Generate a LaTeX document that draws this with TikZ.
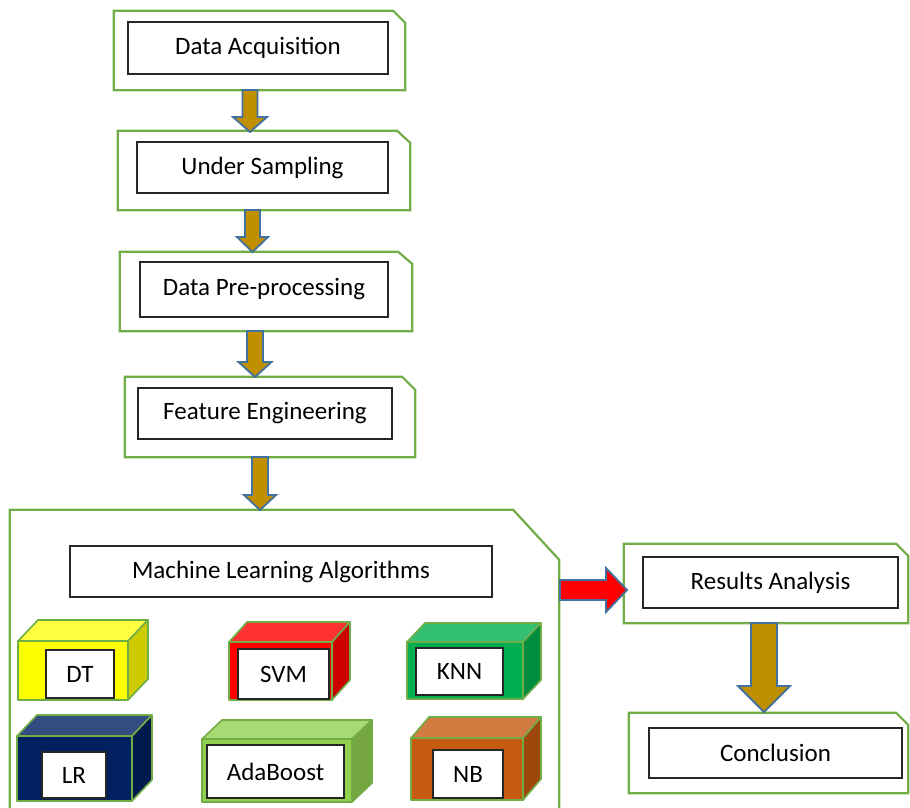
\documentclass[tikz,border=0pt]{standalone}
\usepackage{fontspec}
\setmainfont{Carlito}
\usetikzlibrary{calc,fit}
\definecolor{gline}{HTML}{70AD47}
\definecolor{gold}{HTML}{BF8F00}
\definecolor{arrline}{HTML}{41719C}
\definecolor{lblline}{HTML}{262626}
\definecolor{dtF}{HTML}{FFFF00}\definecolor{dtT}{HTML}{FFFF40}\definecolor{dtS}{HTML}{CCCC00}
\definecolor{svF}{HTML}{FF0000}\definecolor{svT}{HTML}{FF3333}\definecolor{svS}{HTML}{CC0000}
\definecolor{knF}{HTML}{00B050}\definecolor{knT}{HTML}{33C073}\definecolor{knS}{HTML}{008D40}
\definecolor{lrF}{HTML}{002060}\definecolor{lrT}{HTML}{334D80}\definecolor{lrS}{HTML}{001A4D}
\definecolor{abF}{HTML}{92D050}\definecolor{abT}{HTML}{A8DA73}\definecolor{abS}{HTML}{75A640}
\definecolor{nbF}{HTML}{C55A11}\definecolor{nbT}{HTML}{D17B41}\definecolor{nbS}{HTML}{9E480E}
\tikzset{
  outerline/.style={draw=gline, line width=2.2pt, line join=miter},
  lbl/.style={draw=lblline, fill=white, line width=1.4pt, inner sep=0pt, text=black,
    font=\fontsize{25}{28}\selectfont},
  blockarr/.style={fill=gold, draw=arrline, line width=1.8pt, line join=miter},
  redarr/.style={fill=red, draw=arrline, line width=1.8pt, line join=miter},
  cubeline/.style={draw=gline, line width=1.6pt, line join=round},
}
% outer chamfered box: name, x1,y1,x2,y2, chamfer x, chamfer y
\newcommand\outerbox[7]{%
  \coordinate (#1-nw) at (#2,#3);
  \coordinate (#1-se) at (#4,#5);
  \node[fit=(#1-nw)(#1-se), inner sep=0pt] (#1) {};
  \draw[outerline] (#1.south west) -- (#1.north west) -- ([xshift=-#6pt]#1.north east)
     -- ([yshift=-#7pt]#1.north east) -- (#1.south east) -- cycle;}
% label box: name, x1,y1,x2,y2, text
\newcommand\lblbox[6]{%
  \node[lbl, minimum width={#4-#2}, minimum height={#5-#3}] (#1) at ({(#2+#4)/2},{(#3+#5)/2}) {#6};}
% down block arrow between named coordinates: start, end, half shaft, half head, head length
\newcommand\downblk[5]{%
  \path[blockarr] let \p1=(#1), \p2=(#2) in
    (\x1-#3pt,\y1) -- (\x1+#3pt,\y1) -- (\x1+#3pt,\y2+#5pt) -- (\x1+#4pt,\y2+#5pt)
    -- (\x1,\y2) -- (\x1-#4pt,\y2+#5pt) -- (\x1-#3pt,\y2+#5pt) -- cycle;}
% cube: x1,y1,x2,y2 (front face), dx, dy, colour prefix
\newcommand\cubeshape[7]{%
  \path[cubeline, fill=#7T] (#1,#2) -- ({#1+#5},{#2+#6}) -- ({#3+#5},{#2+#6}) -- (#3,#2) -- cycle;
  \path[cubeline, fill=#7S] (#3,#2) -- ({#3+#5},{#2+#6}) -- ({#3+#5},{#4+#6}) -- (#3,#4) -- cycle;
  \path[cubeline, fill=#7F] (#1,#2) rectangle (#3,#4);}
\newcommand\lowtxt[1]{\raisebox{-3pt}{#1}}
\begin{document}
\begin{tikzpicture}[x=1pt,y=-1pt]
\useasboundingbox (0,0) rectangle (910,807);

% outer boxes
\outerbox{da}{114}{11}{405}{90}{12}{12}
\outerbox{us}{118}{131}{410}{210}{13}{12}
\outerbox{pp}{120}{252}{412}{331}{14}{12}
\outerbox{fe}{125}{377}{415}{457}{13}{13}
\outerbox{ml}{10}{510}{559}{830}{46}{50}
\outerbox{ra}{624}{544}{908}{623}{12}{12}
\outerbox{co}{629}{713}{908}{793}{12}{12}

% labels
\lblbox{dal}{128}{22}{388}{74}{Data Acquisition}
\lblbox{usl}{137}{142}{388}{193}{Under Sampling}
\lblbox{ppl}{140}{262}{388}{317}{Data Pre-processing}
\lblbox{fel}{138}{388}{392}{439}{Feature Engineering}
\lblbox{mll}{70}{546}{492}{597}{Machine Learning Algorithms}
\lblbox{ral}{643}{557}{898}{608}{Results Analysis}
\lblbox{col}{649}{728}{902}{778}{Conclusion}

% cubes
\cubeshape{18}{641}{128}{700}{20}{-21}{dt}
\cubeshape{229}{642}{332}{700}{18}{-20}{sv}
\cubeshape{407}{642}{523}{699}{18}{-19}{kn}
\cubeshape{17}{736}{132}{801}{20}{-21}{lr}
\cubeshape{202}{739}{352}{802}{20}{-19}{ab}
\cubeshape{411}{738}{523}{800}{18}{-21}{nb}

\lblbox{dt}{46}{650}{114}{698}{\lowtxt{DT}}
\lblbox{svm}{238}{649}{329}{699}{\lowtxt{SVM}}
\lblbox{knn}{416}{648}{503}{695}{KNN}
\lblbox{lr}{42}{752}{106}{798}{\lowtxt{LR}}
\lblbox{ada}{207}{745}{344}{798}{AdaBoost}
\lblbox{nb}{433}{750}{503}{798}{\lowtxt{NB}}

% arrow end points
\coordinate (a1s) at (250,90);   \coordinate (a1e) at (250,132);
\coordinate (a2s) at (252.5,210); \coordinate (a2e) at (252.5,252);
\coordinate (a3s) at (255,331);  \coordinate (a3e) at (255,377);
\coordinate (a4s) at (260,457);  \coordinate (a4e) at (260,510);
\coordinate (a5s) at (764,623);  \coordinate (a5e) at (764,712);
\coordinate (a6s) at (560,590);  \coordinate (a6e) at (627,590);

\downblk{a1s}{a1e}{7.5}{17}{15}
\downblk{a2s}{a2e}{7.5}{15.5}{15}
\downblk{a3s}{a3e}{8}{16.5}{15}
\downblk{a4s}{a4e}{8}{16}{15}
\downblk{a5s}{a5e}{13}{26}{26}
\path[redarr] let \p1=(a6s), \p2=(a6e) in
  (\x1,\y1+10pt) -- (\x2-21pt,\y1+10pt) -- (\x2-21pt,\y1+22pt) -- (\x2,\y2)
  -- (\x2-21pt,\y1-22pt) -- (\x2-21pt,\y1-10pt) -- (\x1,\y1-10pt) -- cycle;
\end{tikzpicture}
\end{document}
